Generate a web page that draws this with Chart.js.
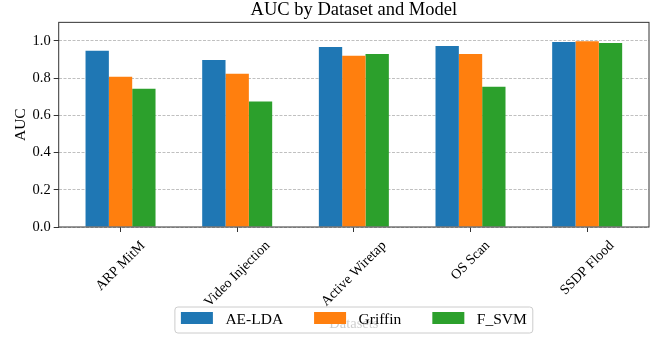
<!DOCTYPE html>
<html>
<head>
<meta charset="utf-8">
<script src="https://cdn.jsdelivr.net/npm/chart.js@4.4.1/dist/chart.umd.min.js"></script>
<style>
  body { margin: 0; background: #fff; }
</style>
</head>
<body>
<canvas id="auc-chart" width="658" height="337"></canvas>
<script>
// data
const categories = ["ARP MitM", "Video Injection", "Active Wiretap", "OS Scan", "SSDP Flood"];
const aeLda = [0.947, 0.898, 0.968, 0.973, 0.995];
const griffin = [0.807, 0.824, 0.920, 0.930, 0.998];
const fSvm = [0.743, 0.674, 0.930, 0.754, 0.989];
const yTicks = [0.0, 0.2, 0.4, 0.6, 0.8, 1.0];

const serif = "'Liberation Serif', 'Times New Roman', serif";

//set colors
const aeColor = "#1f77b4";
const griffinColor = "#ff7f0e";
const svmColor = "#2ca02c";

function toPoints(values) {
    return values.map((v, i) => ({ x: i, y: v }));
}

// axes box on all four sides
const framePlugin = {
    id: "frame",
    afterDatasetsDraw(chart) {
        const { ctx, chartArea } = chart;
        ctx.save();
        ctx.strokeStyle = "#333";
        ctx.lineWidth = 1;
        ctx.strokeRect(chartArea.left, chartArea.top,
            chartArea.right - chartArea.left, chartArea.bottom - chartArea.top);
        ctx.restore();
    }
};

// rotated category labels, centred under each tick like matplotlib
const xLabelPlugin = {
    id: "xLabels",
    afterDraw(chart) {
        const { ctx } = chart;
        const scale = chart.scales.x;
        const fs = 14;
        ctx.save();
        ctx.font = fs + "px " + serif;
        ctx.fillStyle = "#000";
        ctx.textAlign = "center";
        ctx.textBaseline = "middle";
        categories.forEach((label, i) => {
            const x = scale.getPixelForValue(i);
            const w = ctx.measureText(label).width;
            const h = (w + fs * 1.107) * Math.SQRT1_2;
            const y = scale.top + 11 + h / 2;
            ctx.save();
            ctx.translate(x, y);
            ctx.rotate(-Math.PI / 4);
            ctx.fillText(label, 0, 0);
            ctx.restore();
        });
        ctx.restore();
    }
};

// legend box laid over the bottom, as in the figure
const legendPlugin = {
    id: "boxLegend",
    afterDraw(chart) {
        const { ctx, chartArea } = chart;
        const fs = 15.5;
        const patchW = 32, patchH = 12, textPad = 12.5, colGap = 31, pad = 6;
        ctx.save();
        ctx.font = fs + "px " + serif;
        const items = chart.data.datasets.map(ds => ({
            label: ds.label,
            color: ds.backgroundColor,
            w: ctx.measureText(ds.label).width
        }));
        let total = pad * 2 + colGap * (items.length - 1);
        items.forEach(it => { total += patchW + textPad + it.w; });
        const cx = (chartArea.left + chartArea.right) / 2;
        const left = cx - total / 2;
        const top = 307, height = 26;

        ctx.beginPath();
        ctx.roundRect(left, top, total, height, 3);
        ctx.fillStyle = "rgba(255,255,255,0.8)";
        ctx.fill();
        ctx.strokeStyle = "#cccccc";
        ctx.lineWidth = 1;
        ctx.stroke();

        let x = left + pad;
        ctx.textAlign = "left";
        ctx.textBaseline = "alphabetic";
        items.forEach(it => {
            ctx.fillStyle = it.color;
            ctx.fillRect(x, 312, patchW, patchH);
            x += patchW + textPad;
            ctx.fillStyle = "#000";
            ctx.fillText(it.label, x, 324);
            x += it.w + colGap;
        });
        ctx.restore();
    }
};

const ctx = document.getElementById("auc-chart");

const data = {
    datasets: [
        { label: "AE-LDA", data: toPoints(aeLda), backgroundColor: aeColor },
        { label: "Griffin", data: toPoints(griffin), backgroundColor: griffinColor },
        { label: "F_SVM", data: toPoints(fSvm), backgroundColor: svmColor }
    ]
};

new Chart(ctx, {
    type: "bar",
    data: data,
    plugins: [framePlugin, xLabelPlugin, legendPlugin],
    options: {
        responsive: false,
        animation: false,
        layout: { padding: { left: 0, right: 9, top: 0, bottom: 0 } },
        datasets: {
            bar: { categoryPercentage: 0.6, barPercentage: 1.0, borderWidth: 0 }
        },
        scales: {
            x: {
                type: "linear",
                min: -0.53,
                max: 4.53,
                offset: false,
                afterBuildTicks: (scale) => {
                    scale.ticks = categories.map((_, i) => ({ value: i }));
                },
                afterFit: (scale) => { scale.height = 110; },
                ticks: { display: false },
                grid: {
                    offset: false,
                    drawOnChartArea: false,
                    drawTicks: true,
                    tickLength: 5,
                    tickColor: "#333",
                    tickWidth: 1
                },
                border: { display: false },
                title: {
                    display: true,
                    text: "Datasets",
                    color: "#000",
                    font: { family: serif, size: 14.5 },
                    padding: { top: 4, bottom: 4 }
                }
            },
            y: {
                min: 0,
                max: 1.1,
                afterBuildTicks: (scale) => {
                    scale.ticks = yTicks.map(v => ({ value: v }));
                },
                afterFit: (scale) => { scale.width = 58.7; },
                ticks: {
                    color: "#000",
                    padding: 3,
                    font: { family: serif, size: 14.5 },
                    callback: (v) => Number(v).toFixed(1)
                },
                grid: {
                    color: "#b0b0b0",
                    lineWidth: 0.8,
                    drawTicks: true,
                    tickLength: 5,
                    tickColor: "#333",
                    tickWidth: 1,
                    tickBorderDash: []
                },
                border: { display: false, dash: [3, 1.5] },
                title: {
                    display: true,
                    text: "AUC",
                    color: "#000",
                    font: { family: serif, size: 15.5 },
                    padding: { top: 12, bottom: 0 }
                }
            }
        },
        plugins: {
            legend: { display: false },
            tooltip: { enabled: false },
            title: {
                display: true,
                text: "AUC by Dataset and Model",
                color: "#000",
                fullSize: false,
                font: { family: serif, size: 18.5, weight: "normal", lineHeight: 1.1 },
                padding: { top: 0, bottom: 2 }
            }
        }
    }
});
</script>
</body>
</html>
